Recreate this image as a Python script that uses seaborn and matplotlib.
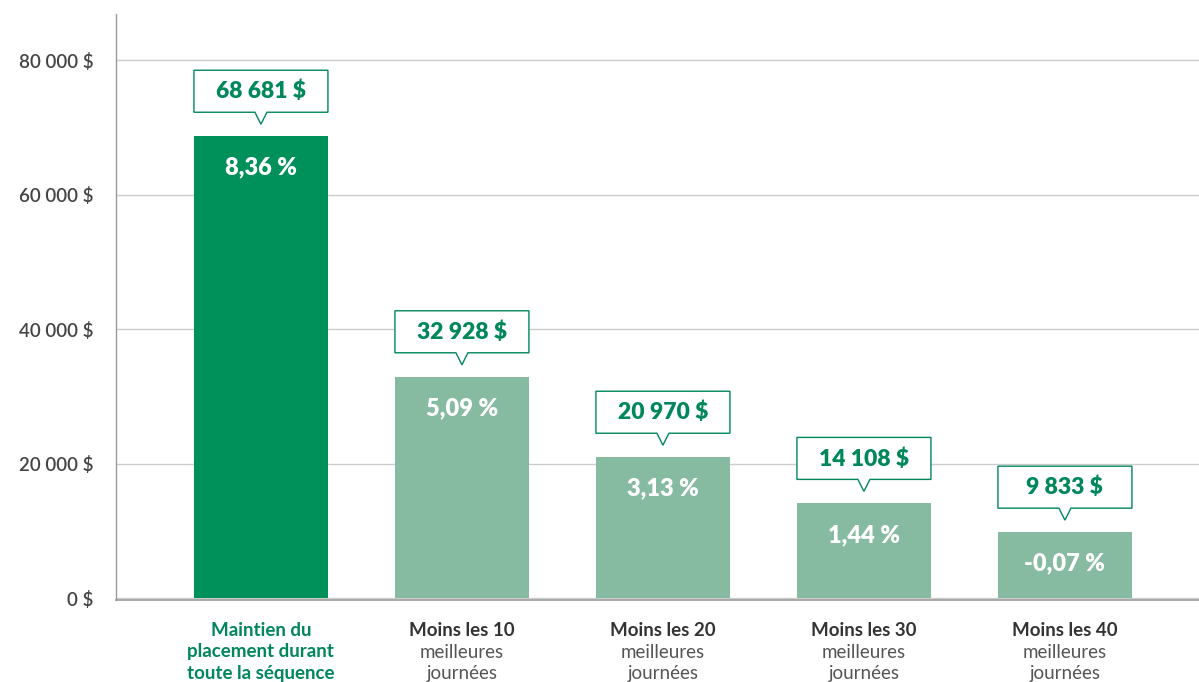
import matplotlib
matplotlib.use("Agg")
import matplotlib.pyplot as plt
import seaborn as sns
import pandas as pd
from matplotlib.patches import Polygon
from matplotlib.transforms import ScaledTranslation, blended_transform_factory

# ---- data ----
cat_titles = ["Maintien du", "Moins les 10", "Moins les 20", "Moins les 30", "Moins les 40"]
cat_sub1 = ["placement durant", "meilleures", "meilleures", "meilleures", "meilleures"]
cat_sub2 = ["toute la séquence", "journées", "journées", "journées", "journées"]
values = [68681, 32928, 20970, 14108, 9833]
value_labels = ["68 681 $", "32 928 $", "20 970 $", "14 108 $", "9 833 $"]
pct_labels = ["8,36 %", "5,09 %", "3,13 %", "1,44 %", "-0,07 %"]
yticks = [0, 20000, 40000, 60000, 80000]
ytick_labels = ["0 $", "20 000 $", "40 000 $", "60 000 $", "80 000 $"]

DARK = "#00905A"
LIGHT = "#86BBA1"
TXTGREEN = "#00875A"
GRAY = "#444444"

sns.set_theme(style="white")
plt.rcParams["font.family"] = ["Lato", "DejaVu Sans"]

fig = plt.figure(figsize=(11.99, 6.82), dpi=100)
ax = fig.add_axes([116 / 1199, (682 - 600) / 682, 1 - 116 / 1199, (600 - 14) / 682])

keys = [f"c{i}" for i in range(len(values))]
df = pd.DataFrame({"cat": keys, "val": values})
colors = [DARK] + [LIGHT] * (len(values) - 1)
sns.barplot(data=df, x="cat", y="val", hue="cat", palette=colors, legend=False,
            width=0.67, saturation=1, linewidth=0, ax=ax, zorder=3)

ax.set_xlim(-0.721, len(values) - 1 + 0.667)
ax.set_ylim(-250, 86850)
ax.set_yticks(yticks)
ax.set_yticklabels(ytick_labels, fontsize=13.5, color=GRAY)
ax.tick_params(axis="y", length=0, pad=16)
ax.tick_params(axis="x", length=0)
ax.set_xticks(range(len(values)))
ax.set_xticklabels([""] * len(values))
ax.set_xlabel("")
ax.set_ylabel("")
for lab in ax.get_yticklabels():
    lab.set_fontweight("semibold")

ax.grid(axis="y", color="#cccccc", linewidth=1, zorder=0)
for s in ["top", "right"]:
    ax.spines[s].set_visible(False)
ax.spines["left"].set_color("#9a9a9a")
ax.spines["bottom"].set_color("#9a9a9a")
ax.spines["left"].set_linewidth(1)
ax.spines["bottom"].set_linewidth(1.2)

# callouts
for i, v in enumerate(values):
    tr = fig.dpi_scale_trans + ScaledTranslation(i, v, ax.transData)
    verts = [(-0.67, 0.24), (-0.06, 0.24), (0, 0.12), (0.06, 0.24),
             (0.67, 0.24), (0.67, 0.66), (-0.67, 0.66)]
    poly = Polygon(verts, closed=True, facecolor="white", edgecolor=TXTGREEN,
                   linewidth=1, transform=tr, zorder=5, clip_on=False)
    ax.add_patch(poly)
    ax.text(0, 0.445, value_labels[i], transform=tr, ha="center", va="center",
            fontsize=16.5, fontweight="heavy", color=TXTGREEN, zorder=6)
    ax.text(0, -0.315, pct_labels[i], transform=tr, ha="center", va="center",
            fontsize=17, fontweight="heavy", color="white", zorder=6)

# category labels
btr = blended_transform_factory(ax.transData, fig.transFigure)
for i in range(len(values)):
    first = i == 0
    c1 = TXTGREEN if first else "#333333"
    c2 = TXTGREEN if first else "#555555"
    w2 = "bold" if first else "normal"
    ax.text(i, 1 - 631 / 682, cat_titles[i], transform=btr, ha="center", va="center",
            fontsize=13.5, fontweight="bold", color=c1)
    ax.text(i, 1 - 652 / 682, cat_sub1[i], transform=btr, ha="center", va="center",
            fontsize=13.5, fontweight=w2, color=c2)
    ax.text(i, 1 - 673 / 682, cat_sub2[i], transform=btr, ha="center", va="center",
            fontsize=13.5, fontweight=w2, color=c2)

fig.savefig("out.png", dpi=100)
